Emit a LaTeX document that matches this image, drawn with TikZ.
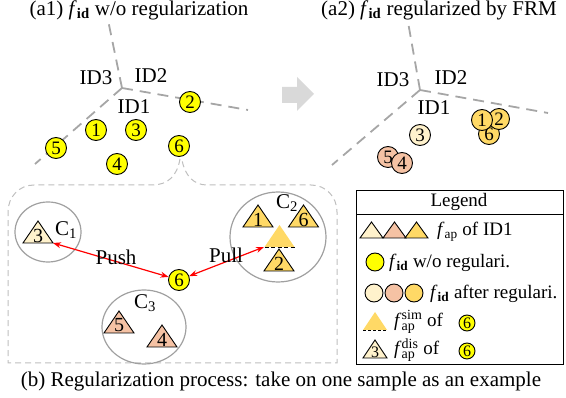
\documentclass[tikz,border=0pt]{standalone}
\usepackage{fontspec}
\setmainfont{Liberation Serif}
\usetikzlibrary{arrows.meta}
\definecolor{cyel}{HTML}{FFFF00}
\definecolor{ccream}{HTML}{FFF2CC}
\definecolor{csalmon}{HTML}{F5C2A4}
\definecolor{cgold}{HTML}{FFD966}
\definecolor{lgray}{HTML}{A6A6A6}
\definecolor{rgray}{HTML}{BFBFBF}
\definecolor{egray}{HTML}{A0A0A0}
\definecolor{agray}{HTML}{D9D9D9}
\newcommand\fid{\textit{f}\textsubscript{\textbf{id}}}
\newcommand\fap{\textit{f}\textsubscript{ap}}
\newcommand\fsd[1]{\textit{f}$^{\mbox{\fontsize{14}{14}\selectfont #1}}_{\mbox{\fontsize{14}{14}\selectfont ap}}$}
\newcommand\trinum[5]{%
  \draw[tri, fill=#4] ({#2-15},#3) -- (#2,{#3-22}) -- ({#2+15},#3) -- cycle;
  \node[trilab] (#1) at (#2,{#3-7.5}) {#5};}
\tikzset{
  num/.style={circle, draw, line width=0.9pt, inner sep=0pt, minimum size=21pt,
    font=\fontsize{19}{19}\selectfont},
  smallnum/.style={circle, draw, line width=0.9pt, inner sep=0pt, minimum size=16pt,
    font=\fontsize{16}{16}\selectfont, fill=cyel},
  part/.style={lgray, line width=1.8pt, dash pattern=on 11pt off 7pt},
  regionline/.style={rgray, line width=1pt, dash pattern=on 6pt off 4pt},
  cell/.style={egray, line width=1.2pt},
  tri/.style={line width=0.9pt, line join=miter},
  trilab/.style={inner sep=0pt, font=\fontsize{20}{20}\selectfont},
  lbl/.style={inner sep=0pt, font=\fontsize{21}{21}\selectfont},
  leg/.style={inner sep=0pt, anchor=west, font=\fontsize{19}{19}\selectfont},
  pp/.style={red, line width=1.2pt, {Stealth[length=8pt,width=6pt]}-{Stealth[length=8pt,width=6pt]}},
}
\begin{document}
\begin{tikzpicture}[x=1pt, y=-1pt]
\useasboundingbox (0,0) rectangle (566,398);

% ---------- titles
\node[lbl] (ta1) at (139,10) {(a1) \fid\ w/o regularization};
\node[lbl] (ta2) at (439,10) {(a2) \fid\ regularized by FRM};

% ---------- (a1) partition
\coordinate (o1) at (122,88);
\draw[part] (o1) -- (108,20);
\draw[part] (o1) -- (248,110);
\draw[part] (o1) -- (35,164);
\node[lbl] (id3a) at (96,78) {ID3};
\node[lbl] (id2a) at (151,76) {ID2};
\node[lbl] (id1a) at (134,107) {ID1};
\node[num, fill=cyel] (a2) at (190,102) {2};
\node[num, fill=cyel] (a1) at (96,130) {1};
\node[num, fill=cyel] (a3) at (136,130) {3};
\node[num, fill=cyel] (a5) at (56,148) {5};
\node[num, fill=cyel] (a4) at (117,164) {4};
\node[num, fill=cyel] (a6) at (179,146) {6};

% ---------- big arrow
\fill[agray] (282,87) -- (297,87) -- (297,77) -- (314,94) -- (297,111) -- (297,103) -- (282,103) -- cycle;

% ---------- (a2) partition
\coordinate (o2) at (420,90);
\draw[part] (o2) -- (408,22);
\draw[part] (o2) -- (548,113);
\draw[part] (o2) -- (332,165);
\node[lbl] (id3b) at (393,80) {ID3};
\node[lbl] (id2b) at (451,78) {ID2};
\node[lbl] (id1b) at (434,108) {ID1};
\node[num, fill=ccream] (b3) at (420,135) {3};
\node[num, fill=csalmon] (b5) at (388,157) {5};
\node[num, fill=csalmon] (b4) at (402,163) {4};
\node[num, fill=cgold] (b6) at (489,134) {6};
\node[num, fill=cgold] (b2) at (499,119) {2};
\node[num, fill=cgold] (b1) at (482,120) {1};

% ---------- (b) region
\draw[regionline] (180,159) .. controls (177,176) and (168,185) .. (152,185)
  -- (34,185) .. controls (19,185) and (8,197) .. (8,212)
  -- (8,363) -- (337,363) -- (337,212)
  .. controls (337,197) and (326,185) .. (311,185)
  -- (207,185) .. controls (194,185) and (185,176) .. (182,160);

\draw[cell] (48,232) ellipse [x radius=33pt, y radius=30pt];
\draw[cell] (278,237) ellipse [x radius=48pt, y radius=45pt];
\draw[cell] (144,327) ellipse [x radius=42pt, y radius=37pt];
\node[lbl] (c1) at (66,230) {C\textsubscript{1}};
\node[lbl] (c2) at (287,203) {C\textsubscript{2}};
\node[lbl] (c3) at (145,303) {C\textsubscript{3}};

\trinum{t3}{38}{243}{ccream}{3}
\trinum{t1}{258}{227}{cgold}{1}
\trinum{t6}{303.5}{227}{cgold}{6}
\trinum{t2}{279}{271}{cgold}{2}
\trinum{t5}{119}{333}{csalmon}{5}
\trinum{t4}{162}{347}{csalmon}{4}
\fill[cgold] (264.5,247) -- (279.5,225) -- (294.5,247) -- cycle;
\draw[line width=0.9pt, dash pattern=on 4pt off 2.5pt] (264.5,247) -- (294.5,247);
\coordinate (tsim) at (264,247);
\coordinate (tdis) at (53,243);

\node[num, fill=cyel] (c6) at (179,280) {6};
\draw[pp] (tdis) -- (c6);
\draw[pp] (c6) -- (tsim);
\node[lbl] (push) at (116,257) {Push};
\node[lbl] (pull) at (226,255) {Pull};

% ---------- legend
\draw[line width=0.8pt] (356,190) rectangle (563,364);
\draw[line width=0.8pt] (356,214) -- (563,214);
\node[inner sep=0pt, font=\fontsize{19}{19}\selectfont] (legt) at (459,202) {Legend};
\draw[tri, fill=ccream] (360,238) -- (371.5,222) -- (383,238) -- cycle;
\draw[tri, fill=csalmon] (383,238) -- (394.5,222) -- (406,238) -- cycle;
\draw[tri, fill=cgold] (405,238) -- (416.5,222) -- (428,238) -- cycle;
\node[leg] (l1) at (437,232) {\fap\ of ID1};
\node[circle, draw, line width=0.9pt, minimum size=18pt, inner sep=0pt, fill=cyel] (lc1) at (375,262) {};
\node[leg] (l2) at (389,263) {\fid\ w/o regulari.};
\node[circle, draw, line width=0.9pt, minimum size=18pt, inner sep=0pt, fill=ccream] (lc2) at (374,293) {};
\node[circle, draw, line width=0.9pt, minimum size=18pt, inner sep=0pt, fill=csalmon] (lc3) at (394,293) {};
\node[circle, draw, line width=0.9pt, minimum size=18pt, inner sep=0pt, fill=cgold] (lc4) at (414,293) {};
\node[leg] (l3) at (430,294) {\fid\ after regulari.};
\fill[cgold] (363,330) -- (375,312) -- (387,330) -- cycle;
\draw[line width=0.8pt, dash pattern=on 3pt off 2pt] (363,330) -- (387,330);
\node[leg] (l4) at (394,322) {\fsd{sim}\ of};
\node[smallnum] (ls1) at (467,323) {6};
\draw[tri, fill=ccream] (363,358) -- (375,340) -- (387,358) -- cycle;
\node[inner sep=0pt, font=\fontsize{16}{16}\selectfont] (l3n) at (375,352) {3};
\node[leg] (l5) at (394,350) {\fsd{dis}\ of};
\node[smallnum] (ls2) at (467,351) {6};

% ---------- caption
\node[lbl] (cap) at (281,381) {(b) Regularization process: take on one sample as an example};
\end{tikzpicture}
\end{document}
